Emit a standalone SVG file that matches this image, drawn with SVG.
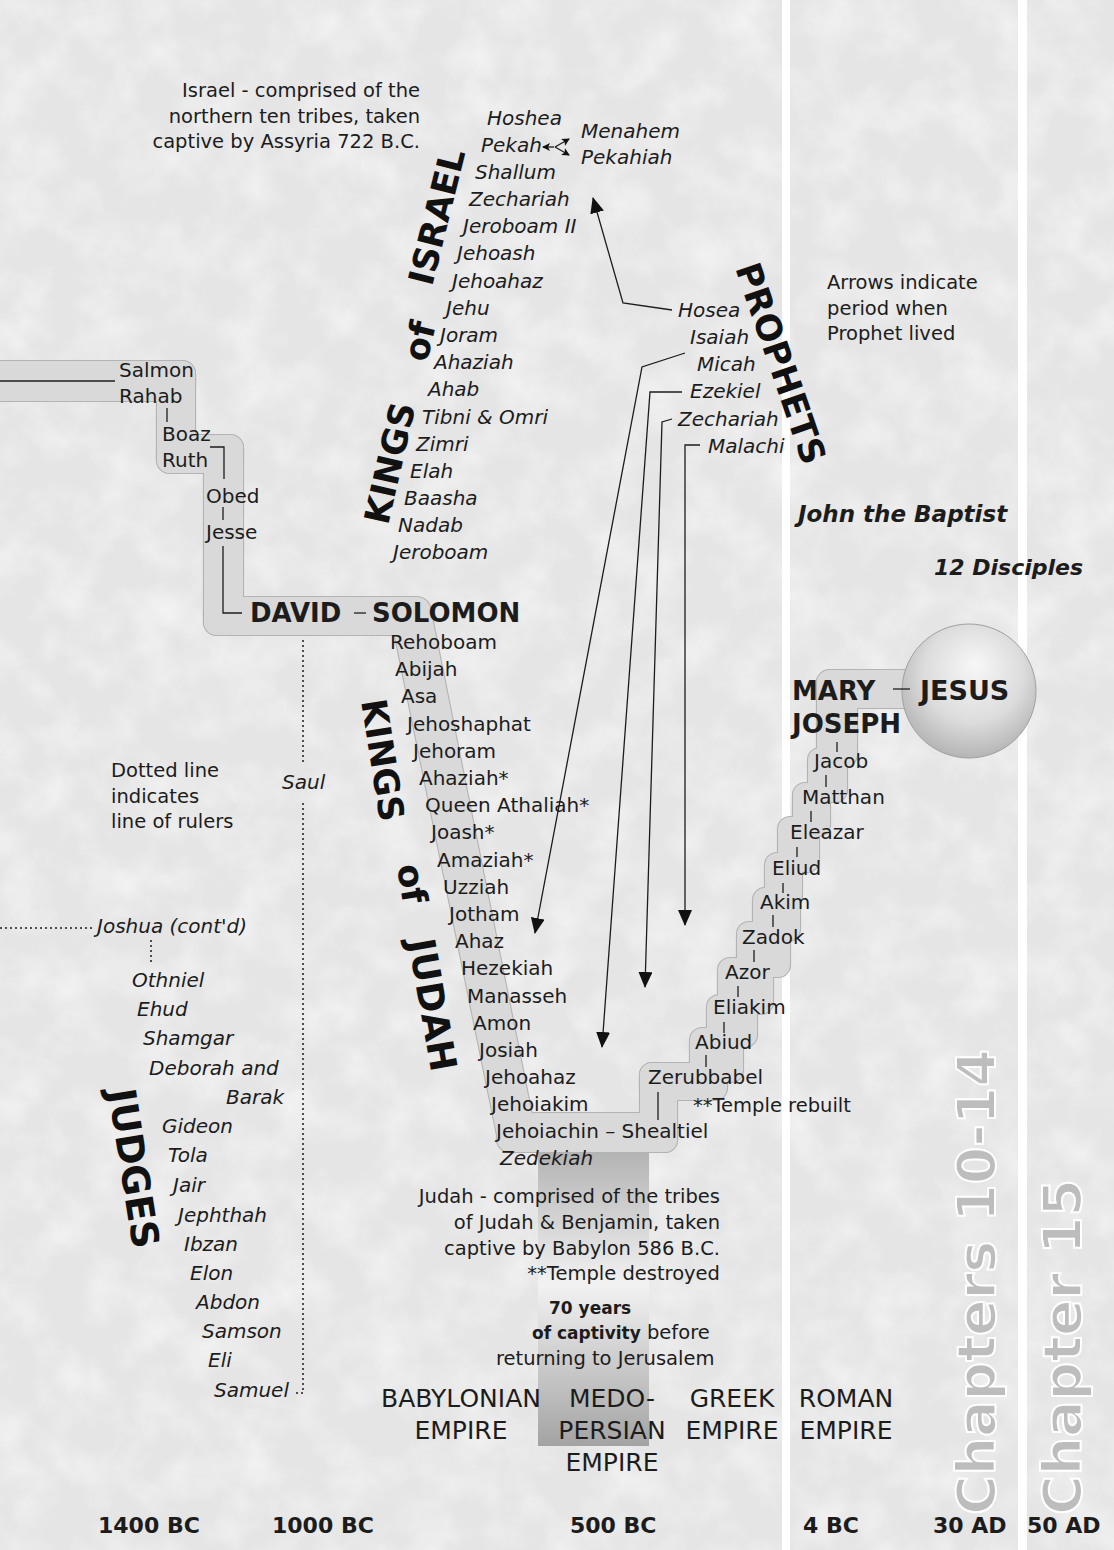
<svg xmlns="http://www.w3.org/2000/svg" width="1114" height="1550" viewBox="0 0 1114 1550">
<style>
text{font-family:"DejaVu Sans","Liberation Sans",sans-serif;fill:#1c1c1c}
.n{font-size:20px}
.i{font-size:20px;font-style:italic}
.note{font-size:19.5px}
.bn{font-size:17px;font-weight:bold}
.h{font-size:35px;font-weight:bold;fill:#111}
.big{font-size:26px;font-weight:bold}
.bi{font-size:23px;font-weight:bold;font-style:italic}
.emp{font-size:25px}
.yr{font-size:22px;font-weight:bold}
.ch{font-size:54px;font-weight:bold;fill:#bdbdbd;stroke:#ffffff;stroke-width:2}
.bandO{fill:#d9d9d9;stroke:#b3b3b3;stroke-width:2.2}
.bandF{fill:#d9d9d9;stroke:none}
.ln{stroke:#1c1c1c;stroke-width:1.3;fill:none}
.dot{stroke:#1c1c1c;stroke-width:1.5;fill:none;stroke-dasharray:2 3}
</style>
<defs>
<filter id="tex" filterUnits="userSpaceOnUse" x="0" y="0" width="1114" height="1550">
<feTurbulence type="fractalNoise" baseFrequency="0.022" numOctaves="4" seed="7"/>
<feColorMatrix type="matrix" values="0 0 0 0 1 0 0 0 0 1 0 0 0 0 1 1.8 0 0 0 -0.7"/>
</filter>
<linearGradient id="capg" x1="0" y1="0" x2="0" y2="1">
<stop offset="0" stop-color="#b3b3b3"/><stop offset="0.45" stop-color="#f2f2f2"/><stop offset="1" stop-color="#a3a3a3"/>
</linearGradient>
<radialGradient id="cg" cx="0.52" cy="0.4" r="0.62" fx="0.55" fy="0.3">
<stop offset="0" stop-color="#f7f7f7"/><stop offset="0.6" stop-color="#dcdcdc"/><stop offset="1" stop-color="#b2b2b2"/>
</radialGradient>
<marker id="ah" markerUnits="userSpaceOnUse" markerWidth="16" markerHeight="14" refX="15" refY="7" orient="auto"><path d="M0,0 L16,7 L0,14 z" fill="#111"/></marker>
<marker id="sa" markerUnits="userSpaceOnUse" markerWidth="8" markerHeight="8" refX="7" refY="4" orient="auto"><path d="M0,0 L8,4 L0,8 L2,4 z" fill="#111"/></marker>
<g id="bandShapes">
<rect x="-20" y="361" width="215" height="40" rx="13"/>
<rect x="157" y="361" width="38" height="112" rx="13"/>
<rect x="157" y="435" width="86" height="38" rx="13"/>
<rect x="204" y="435" width="39" height="200" rx="13"/>
<rect x="204" y="597" width="222" height="38" rx="13"/>
<path d="M387,597 L418,597 Q430,599 431,612 L536,1135 L497,1135 Z"/>
<rect x="497" y="1113" width="180" height="39" rx="13"/>
<rect x="640" y="1063" width="37" height="89" rx="12"/>
<rect x="640" y="1063" width="87" height="37" rx="12"/>
<rect x="690" y="1028" width="53" height="54" rx="12"/>
<rect x="707" y="995" width="50" height="52" rx="12"/>
<rect x="718" y="958" width="55" height="56" rx="12"/>
<rect x="737" y="922" width="53" height="55" rx="12"/>
<rect x="753" y="888" width="47" height="53" rx="12"/>
<rect x="765" y="853" width="37" height="54" rx="12"/>
<rect x="778" y="817" width="41" height="55" rx="12"/>
<rect x="793" y="783" width="37" height="53" rx="12"/>
<rect x="808" y="748" width="39" height="54" rx="12"/>
<rect x="817" y="670" width="40" height="97" rx="13"/>
<rect x="817" y="670" width="110" height="38" rx="13"/>
</g>
</defs>

<g id="background">
<rect width="1114" height="1550" fill="#e5e5e5"/>
<rect width="1114" height="1550" filter="url(#tex)" opacity="0.55"/>
<rect x="782" y="0" width="8" height="1550" fill="#ffffff"/>
<rect x="1018" y="0" width="9" height="1550" fill="#ffffff"/>
</g>

<g id="lineage-band">
<use href="#bandShapes" class="bandO"/>
<use href="#bandShapes" class="bandF"/>
</g>
<g id="captivity-bar"><rect x="538" y="1152" width="111" height="294" fill="url(#capg)"/></g>
<g id="jesus-circle"><circle cx="969" cy="691" r="67" fill="url(#cg)" stroke="#a0a0a0" stroke-width="1"/></g>

<g id="chapters">
<text class="ch" transform="translate(995,1515) rotate(-90)">Chapters 10-14</text>
<text class="ch" transform="translate(1081,1515) rotate(-90)">Chapter 15</text>
</g>

<g id="connectors">
<path class="ln" d="M0,381 L115,381"/>
<path class="ln" d="M167,408 L167,422"/>
<path class="ln" d="M210,447 L224,447 L224,479"/>
<path class="ln" d="M223,507 L223,520"/>
<path class="ln" d="M223,546 L223,613 L242,613"/>
<path class="ln" d="M354,613 L366,613"/>
<path class="ln" d="M893,689 L910,689"/>
<path class="ln" d="M837,742 L837,752"/>
<path class="ln" d="M826,775 L826,787"/>
<path class="ln" d="M811,811 L811,822"/>
<path class="ln" d="M797,847 L797,857"/>
<path class="ln" d="M783,883 L783,893"/>
<path class="ln" d="M773,915 L773,927"/>
<path class="ln" d="M754,950 L754,962"/>
<path class="ln" d="M738,986 L738,997"/>
<path class="ln" d="M724,1022 L724,1033"/>
<path class="ln" d="M706,1055 L706,1067"/>
<path class="ln" d="M658,1092 L658,1120"/>
<path class="dot" d="M303,640 L303,765"/>
<path class="dot" d="M303,803 L303,1393 L296,1393"/>
<path class="dot" d="M0,928 L92,928"/>
<path class="dot" d="M151,940 L151,963"/>
<path class="ln" d="M672,310 L623,303 L593,198" marker-end="url(#ah)"/>
<path class="ln" d="M685,353 L642,367 L535,933" marker-end="url(#ah)"/>
<path class="ln" d="M682,392 L650,392 L602,1047" marker-end="url(#ah)"/>
<path class="ln" d="M672,419 L662,422 L645,987" marker-end="url(#ah)"/>
<path class="ln" d="M700,445 L685,445 L685,925" marker-end="url(#ah)"/>
<path class="ln" d="M554,147 L543,147" marker-end="url(#sa)"/>
<path class="ln" d="M555,147 L569,139" marker-end="url(#sa)"/>
<path class="ln" d="M555,147 L569,155" marker-end="url(#sa)"/>
</g>

<g id="notes">
<g id="note-israel"><text class="note" text-anchor="end"><tspan x="420" y="97">Israel - comprised of the</tspan><tspan x="420" y="123">northern ten tribes, taken</tspan><tspan x="420" y="148">captive by Assyria  722 B.C.</tspan></text></g>
<g id="note-arrows"><text class="note"><tspan x="827" y="289">Arrows indicate</tspan><tspan x="827" y="315">period when</tspan><tspan x="827" y="340">Prophet lived</tspan></text></g>
<g id="note-dotted"><text class="note"><tspan x="111" y="777">Dotted line</tspan><tspan x="111" y="803">indicates</tspan><tspan x="111" y="828">line of rulers</tspan></text></g>
<g id="note-judah"><text class="note" text-anchor="end"><tspan x="720" y="1203">Judah - comprised of the tribes</tspan><tspan x="720" y="1229">of Judah &amp; Benjamin, taken</tspan><tspan x="720" y="1255">captive by Babylon 586 B.C.</tspan><tspan x="720" y="1280">**Temple destroyed</tspan></text></g>
<g id="note-captivity"><text class="bn" x="549" y="1314">70 years</text><text x="532" y="1339"><tspan class="bn">of captivity</tspan><tspan class="note"> before</tspan></text><text class="note" x="496" y="1365">returning to Jerusalem</text></g>
<g id="note-rebuilt"><text class="note" x="693" y="1112">**Temple rebuilt</text></g>
</g>

<g id="headings">
<g id="h-kings-israel"><text class="h" transform="translate(388,526) rotate(-77)">KINGS</text><text class="h" transform="translate(427,363) rotate(-77)">of</text><text class="h" transform="translate(432,287) rotate(-76)">ISRAEL</text></g>
<g id="h-prophets"><text class="h" transform="translate(735,268) rotate(71)">PROPHETS</text></g>
<g id="h-kings-judah"><text class="h" transform="translate(361,701) rotate(81)">KINGS</text><text class="h" transform="translate(397,866) rotate(81)">of</text><text class="h" style="font-size:37px" transform="translate(408,941) rotate(80)">JUDAH</text></g>
<g id="h-judges"><text class="h" style="font-size:38px" transform="translate(108,1091) rotate(81)">JUDGES</text></g>
</g>

<g id="kings-israel">
<g id="ki-hoshea"><text class="i" x="487" y="125">Hoshea</text></g>
<g id="ki-pekah"><text class="i" x="481" y="152">Pekah</text></g>
<g id="ki-menahem"><text class="i" x="581" y="138">Menahem</text></g>
<g id="ki-pekahiah"><text class="i" x="581" y="164">Pekahiah</text></g>
<g id="ki-shallum"><text class="i" x="475" y="179">Shallum</text></g>
<g id="ki-zechariah"><text class="i" x="469" y="206">Zechariah</text></g>
<g id="ki-jeroboam2"><text class="i" x="463" y="233">Jeroboam II</text></g>
<g id="ki-jehoash"><text class="i" x="457" y="260">Jehoash</text></g>
<g id="ki-jehoahaz"><text class="i" x="452" y="288">Jehoahaz</text></g>
<g id="ki-jehu"><text class="i" x="446" y="315">Jehu</text></g>
<g id="ki-joram"><text class="i" x="440" y="342">Joram</text></g>
<g id="ki-ahaziah"><text class="i" x="434" y="369">Ahaziah</text></g>
<g id="ki-ahab"><text class="i" x="428" y="396">Ahab</text></g>
<g id="ki-tibni"><text class="i" x="422" y="424">Tibni &amp; Omri</text></g>
<g id="ki-zimri"><text class="i" x="416" y="451">Zimri</text></g>
<g id="ki-elah"><text class="i" x="410" y="478">Elah</text></g>
<g id="ki-baasha"><text class="i" x="404" y="505">Baasha</text></g>
<g id="ki-nadab"><text class="i" x="398" y="532">Nadab</text></g>
<g id="ki-jeroboam"><text class="i" x="393" y="559">Jeroboam</text></g>
</g>

<g id="prophets">
<g id="p-hosea"><text class="i" x="678" y="317">Hosea</text></g>
<g id="p-isaiah"><text class="i" x="690" y="344">Isaiah</text></g>
<g id="p-micah"><text class="i" x="697" y="371">Micah</text></g>
<g id="p-ezekiel"><text class="i" x="690" y="398">Ezekiel</text></g>
<g id="p-zechariah"><text class="i" x="678" y="426">Zechariah</text></g>
<g id="p-malachi"><text class="i" x="708" y="453">Malachi</text></g>
<g id="p-john"><text class="bi" x="798" y="522">John the Baptist</text></g>
<g id="p-disciples"><text class="bi" style="font-size:22px" x="934" y="575">12 Disciples</text></g>
</g>

<g id="lineage">
<g id="g-salmon"><text class="n" x="119" y="377">Salmon</text></g>
<g id="g-rahab"><text class="n" x="119" y="403">Rahab</text></g>
<g id="g-boaz"><text class="n" x="162" y="441">Boaz</text></g>
<g id="g-ruth"><text class="n" x="162" y="467">Ruth</text></g>
<g id="g-obed"><text class="n" x="206" y="503">Obed</text></g>
<g id="g-jesse"><text class="n" x="206" y="539">Jesse</text></g>
<g id="g-david"><text class="big" x="250" y="622">DAVID</text></g>
<g id="g-solomon"><text class="big" x="372" y="622">SOLOMON</text></g>
<g id="g-mary"><text class="big" x="792" y="700">MARY</text></g>
<g id="g-jesus"><text class="big" style="font-size:27px" x="920" y="700">JESUS</text></g>
<g id="g-joseph"><text class="big" x="792" y="733">JOSEPH</text></g>
<g id="g-jacob"><text class="n" x="814" y="768">Jacob</text></g>
<g id="g-matthan"><text class="n" x="802" y="804">Matthan</text></g>
<g id="g-eleazar"><text class="n" x="790" y="839">Eleazar</text></g>
<g id="g-eliud"><text class="n" x="772" y="875">Eliud</text></g>
<g id="g-akim"><text class="n" x="760" y="909">Akim</text></g>
<g id="g-zadok"><text class="n" x="742" y="944">Zadok</text></g>
<g id="g-azor"><text class="n" x="725" y="979">Azor</text></g>
<g id="g-eliakim"><text class="n" x="713" y="1014">Eliakim</text></g>
<g id="g-abiud"><text class="n" x="695" y="1049">Abiud</text></g>
<g id="g-zerubbabel"><text class="n" x="648" y="1084">Zerubbabel</text></g>
</g>

<g id="kings-judah">
<g id="kj-rehoboam"><text class="n" x="390" y="649">Rehoboam</text></g>
<g id="kj-abijah"><text class="n" x="395" y="676">Abijah</text></g>
<g id="kj-asa"><text class="n" x="401" y="703">Asa</text></g>
<g id="kj-jehoshaphat"><text class="n" x="407" y="731">Jehoshaphat</text></g>
<g id="kj-jehoram"><text class="n" x="413" y="758">Jehoram</text></g>
<g id="kj-ahaziah"><text class="n" x="419" y="785">Ahaziah*</text></g>
<g id="kj-athaliah"><text class="n" x="425" y="812">Queen Athaliah*</text></g>
<g id="kj-joash"><text class="n" x="431" y="839">Joash*</text></g>
<g id="kj-amaziah"><text class="n" x="437" y="867">Amaziah*</text></g>
<g id="kj-uzziah"><text class="n" x="443" y="894">Uzziah</text></g>
<g id="kj-jotham"><text class="n" x="449" y="921">Jotham</text></g>
<g id="kj-ahaz"><text class="n" x="455" y="948">Ahaz</text></g>
<g id="kj-hezekiah"><text class="n" x="461" y="975">Hezekiah</text></g>
<g id="kj-manasseh"><text class="n" x="467" y="1003">Manasseh</text></g>
<g id="kj-amon"><text class="n" x="473" y="1030">Amon</text></g>
<g id="kj-josiah"><text class="n" x="479" y="1057">Josiah</text></g>
<g id="kj-jehoahaz"><text class="n" x="485" y="1084">Jehoahaz</text></g>
<g id="kj-jehoiakim"><text class="n" x="491" y="1111">Jehoiakim</text></g>
<g id="kj-jehoiachin"><text class="n" x="496" y="1138">Jehoiachin – Shealtiel</text></g>
<g id="kj-zedekiah"><text class="i" x="500" y="1165">Zedekiah</text></g>
</g>

<g id="judges">
<g id="j-saul"><text class="i" x="282" y="789">Saul</text></g>
<g id="j-joshua"><text class="i" x="97" y="933">Joshua (cont'd)</text></g>
<g id="j-othniel"><text class="i" x="132" y="987">Othniel</text></g>
<g id="j-ehud"><text class="i" x="137" y="1016">Ehud</text></g>
<g id="j-shamgar"><text class="i" x="143" y="1045">Shamgar</text></g>
<g id="j-deborah"><text class="i" x="149" y="1075">Deborah and</text></g>
<g id="j-barak"><text class="i" x="226" y="1104">Barak</text></g>
<g id="j-gideon"><text class="i" x="162" y="1133">Gideon</text></g>
<g id="j-tola"><text class="i" x="168" y="1162">Tola</text></g>
<g id="j-jair"><text class="i" x="173" y="1192">Jair</text></g>
<g id="j-jephthah"><text class="i" x="178" y="1222">Jephthah</text></g>
<g id="j-ibzan"><text class="i" x="184" y="1251">Ibzan</text></g>
<g id="j-elon"><text class="i" x="190" y="1280">Elon</text></g>
<g id="j-abdon"><text class="i" x="196" y="1309">Abdon</text></g>
<g id="j-samson"><text class="i" x="202" y="1338">Samson</text></g>
<g id="j-eli"><text class="i" x="208" y="1367">Eli</text></g>
<g id="j-samuel"><text class="i" x="214" y="1397">Samuel</text></g>
</g>

<g id="empires">
<g id="e-babylon"><text class="emp" text-anchor="middle"><tspan x="461" y="1407">BABYLONIAN</tspan><tspan x="461" y="1439">EMPIRE</tspan></text></g>
<g id="e-medo"><text class="emp" text-anchor="middle"><tspan x="612" y="1407">MEDO-</tspan><tspan x="612" y="1439">PERSIAN</tspan><tspan x="612" y="1471">EMPIRE</tspan></text></g>
<g id="e-greek"><text class="emp" text-anchor="middle"><tspan x="732" y="1407">GREEK</tspan><tspan x="732" y="1439">EMPIRE</tspan></text></g>
<g id="e-roman"><text class="emp" text-anchor="middle"><tspan x="846" y="1407">ROMAN</tspan><tspan x="846" y="1439">EMPIRE</tspan></text></g>
</g>

<g id="timeline">
<text class="yr" x="98" y="1533">1400 BC</text>
<text class="yr" x="272" y="1533">1000 BC</text>
<text class="yr" x="570" y="1533">500 BC</text>
<text class="yr" x="803" y="1533">4 BC</text>
<text class="yr" x="933" y="1533">30 AD</text>
<text class="yr" x="1027" y="1533">50 AD</text>
</g>
</svg>
